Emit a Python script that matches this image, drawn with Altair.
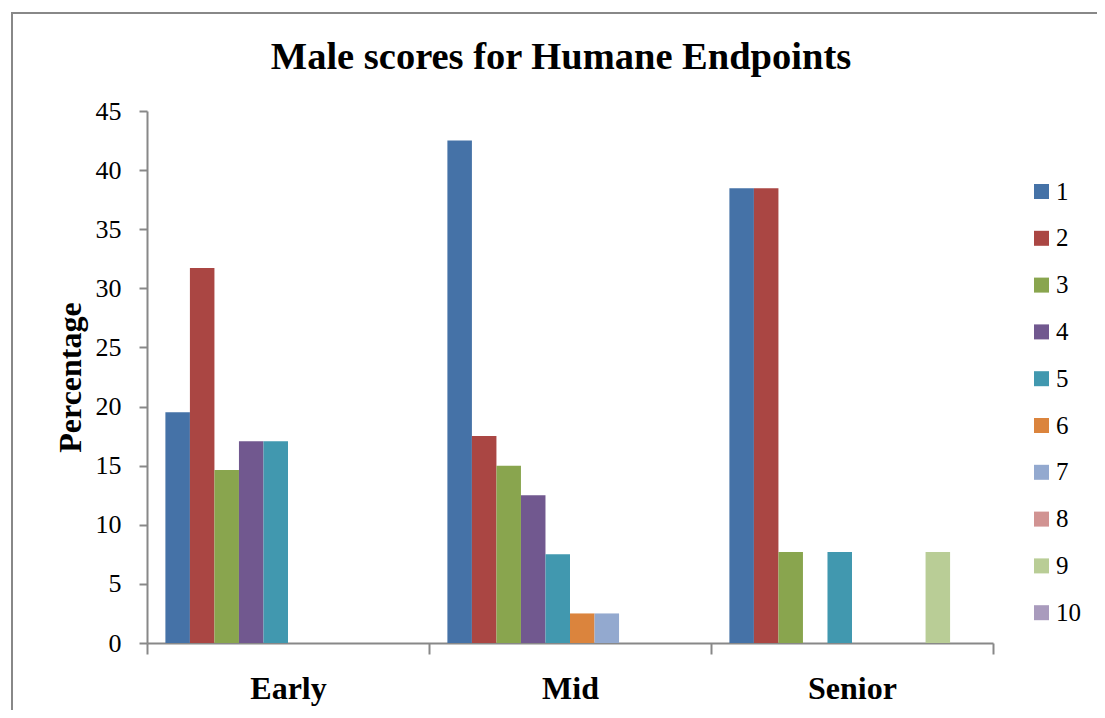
import altair as alt
import pandas as pd

groups = ["Early", "Mid", "Senior"]
scores = ["1", "2", "3", "4", "5", "6", "7", "8", "9", "10"]
early = [19.51, 31.71, 14.63, 17.07, 17.07, 0, 0, 0, 0, 0]
mid = [42.5, 17.5, 15.0, 12.5, 7.5, 2.5, 2.5, 0, 0, 0]
senior = [38.46, 38.46, 7.69, 0, 7.69, 0, 0, 0, 7.69, 0]
colors = ["#4572A7", "#AA4643", "#89A54E", "#71588F", "#4198AF",
          "#DB843D", "#93A9CF", "#D19392", "#B9CD96", "#A99BBD"]
y_ticks = [0, 5, 10, 15, 20, 25, 30, 35, 40, 45]

rows = []
for g, vals in zip(groups, [early, mid, senior]):
    for s, v in zip(scores, vals):
        rows.append({"group": g, "score": s, "value": v})
df = pd.DataFrame(rows)

FONT = "Liberation Serif"
AX = "#888888"

bars = alt.Chart(df).mark_bar().encode(
    x=alt.X("group:N", sort=groups,
            scale=alt.Scale(paddingInner=0, paddingOuter=0),
            axis=alt.Axis(title=None, labelFont=FONT, labelFontSize=32,
                          labelFontWeight="bold", labelColor="black",
                          labelAngle=0, tickBand="extent", tickSize=11,
                          labelPadding=19, domainColor=AX, tickColor=AX,
                          domainWidth=2, tickWidth=2)),
    xOffset=alt.XOffset("score:N", sort=scores,
                        scale=alt.Scale(domain=scores, paddingInner=0,
                                        paddingOuter=0.75)),
    y=alt.Y("value:Q", scale=alt.Scale(domain=[0, 45], nice=False),
            axis=alt.Axis(values=y_ticks, title="Percentage", grid=False,
                          labelFont=FONT, labelFontSize=26,
                          labelColor="black", tickSize=8, labelPadding=18,
                          domainColor=AX, tickColor=AX, domainWidth=2,
                          tickWidth=2, titleFont=FONT, titleFontSize=32,
                          titleFontWeight="bold", titleColor="black",
                          titlePadding=8)),
    color=alt.Color("score:N", sort=scores,
                    scale=alt.Scale(domain=scores, range=colors),
                    legend=alt.Legend(title=None, orient="none",
                                      legendX=882, legendY=68,
                                      symbolType="square", symbolSize=225,
                                      symbolStrokeWidth=0,
                                      labelFont=FONT, labelFontSize=25,
                                      labelColor="black", labelOffset=2,
                                      rowPadding=20.8)),
)

border = alt.Chart(pd.DataFrame({"a": [0]})).mark_rect(
    fill="white", fillOpacity=0, stroke=AX, strokeWidth=2
).encode(
    x=alt.value(-135), x2=alt.value(1000),
    y=alt.value(-98), y2=alt.value(700),
)

chart = alt.layer(border, bars).properties(
    width=846, height=532,
    title=alt.TitleParams("Male scores for Humane Endpoints", font=FONT,
                          fontSize=38.5, fontWeight="bold", color="black",
                          anchor="middle", frame="group", offset=34,
                          dx=-9, dy=99),
    autosize=alt.AutoSizeParams(type="none"),
    padding={"left": 139, "top": 103, "right": 104, "bottom": 67},
    background="white",
).configure_view(stroke=None)

chart.save("out.html", embed_options={"renderer": "svg", "actions": False})
